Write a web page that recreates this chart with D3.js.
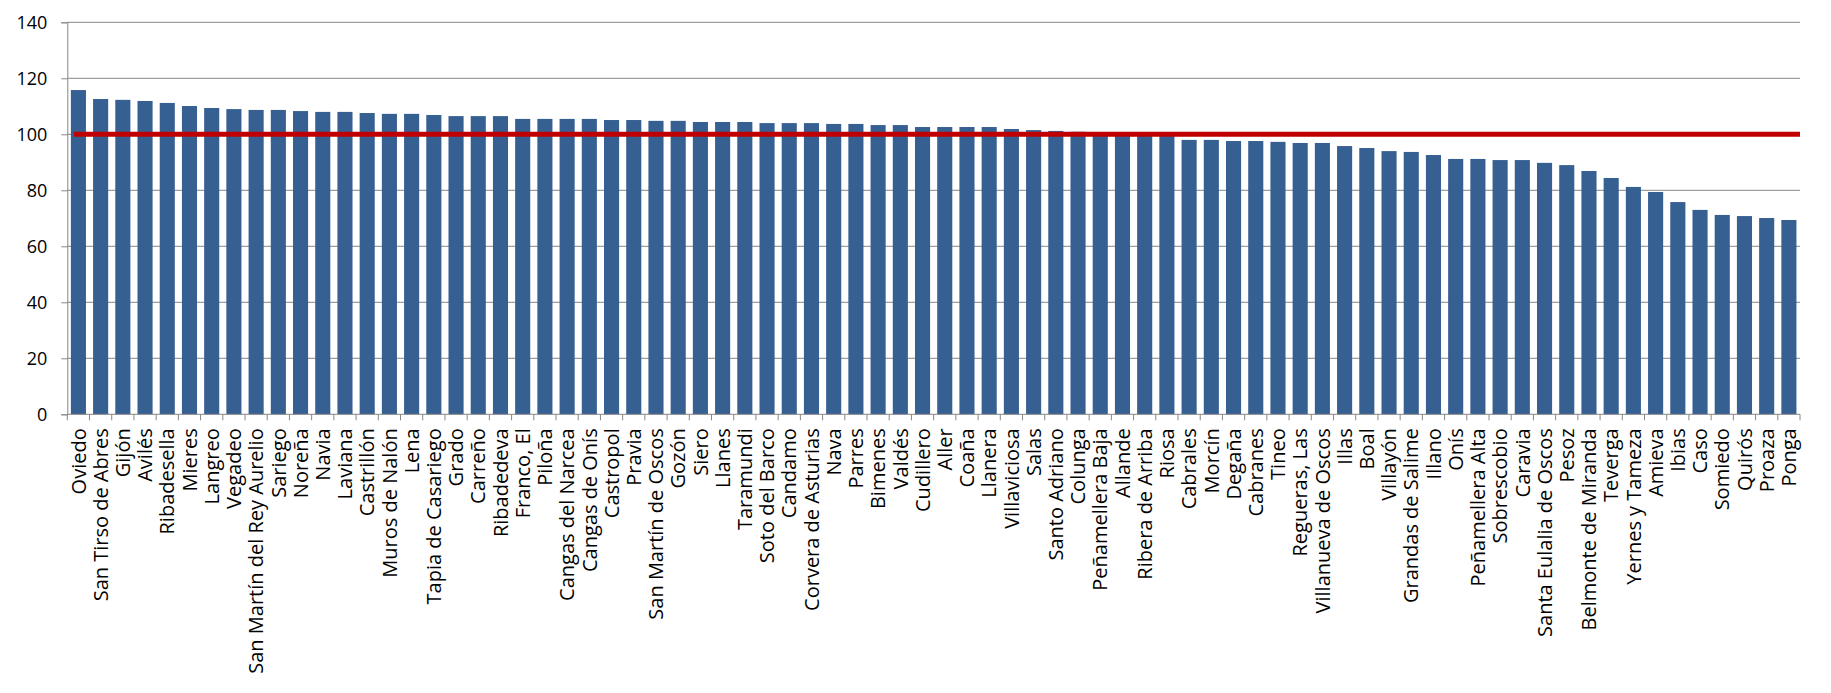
<!DOCTYPE html>
<html>
<head>
<meta charset="utf-8">
<script src="https://cdn.jsdelivr.net/npm/d3@7"></script>
<style>
  html, body { margin: 0; padding: 0; background: #fff; }
  svg { display: block; }
  text { font-family: "Open Sans", "Noto Sans", sans-serif; fill: #000; }
</style>
</head>
<body>
<script>
// municipalities, sorted as in the source chart
const categories = [
  "Oviedo", "San Tirso de Abres", "Gijón", "Avilés", "Ribadesella", "Mieres",
  "Langreo", "Vegadeo", "San Martín del Rey Aurelio", "Sariego", "Noreña",
  "Navia", "Laviana", "Castrillón", "Muros de Nalón", "Lena",
  "Tapia de Casariego", "Grado", "Carreño", "Ribadedeva", "Franco, El",
  "Piloña", "Cangas del Narcea", "Cangas de Onís", "Castropol", "Pravia",
  "San Martín de Oscos", "Gozón", "Siero", "Llanes", "Taramundi",
  "Soto del Barco", "Candamo", "Corvera de Asturias", "Nava", "Parres",
  "Bimenes", "Valdés", "Cudillero", "Aller", "Coaña", "Llanera",
  "Villaviciosa", "Salas", "Santo Adriano", "Colunga", "Peñamellera Baja",
  "Allande", "Ribera de Arriba", "Riosa", "Cabrales", "Morcín", "Degaña",
  "Cabranes", "Tineo", "Regueras, Las", "Villanueva de Oscos", "Illas",
  "Boal", "Villayón", "Grandas de Salime", "Illano", "Onís",
  "Peñamellera Alta", "Sobrescobio", "Caravia", "Santa Eulalia de Oscos",
  "Pesoz", "Belmonte de Miranda", "Teverga", "Yernes y Tameza", "Amieva",
  "Ibias", "Caso", "Somiedo", "Quirós", "Proaza", "Ponga"
];

// index values
const values = [
  115.8, 112.6, 112.3, 111.9, 111.2, 110.1, 109.4, 109.0, 108.7, 108.7,
  108.3, 108.0, 108.0, 107.6, 107.3, 107.3, 106.9, 106.5, 106.5, 106.5,
  105.5, 105.5, 105.5, 105.5, 105.1, 105.1, 104.8, 104.8, 104.4, 104.4,
  104.4, 104.0, 104.0, 104.0, 103.7, 103.7, 103.3, 103.3, 102.6, 102.6,
  102.6, 102.6, 101.9, 101.5, 101.2, 100.9, 100.6, 100.4, 100.2, 100.0,
  98.0, 98.0, 97.6, 97.6, 97.3, 96.9, 96.9, 95.8, 95.1, 94.0,
  93.7, 92.6, 91.2, 91.2, 90.8, 90.8, 89.8, 89.0, 86.9, 84.4,
  81.2, 79.4, 75.8, 73.0, 71.2, 70.8, 70.1, 69.4
];

// reference level (Asturias = 100)
const referenceValue = 100;

const yTicks = [0, 20, 40, 60, 80, 100, 120, 140];

const width = 1831;
const height = 693;
const margin = { top: 22.3, right: 31, bottom: 278.7, left: 67.3 };

const svg = d3.select("body")
  .append("svg")
  .attr("width", width)
  .attr("height", height);

const x = d3.scaleBand()
  .domain(categories)
  .range([margin.left, width - margin.right])
  .paddingInner(0.32)
  .paddingOuter(0.16);

const y = d3.scaleLinear()
  .domain([0, 140])
  .range([height - margin.bottom, margin.top]);

// horizontal gridlines
svg.append("g")
  .selectAll("line")
  .data(yTicks.filter(d => d > 0))
  .join("line")
  .attr("x1", margin.left)
  .attr("x2", width - margin.right)
  .attr("y1", d => y(d))
  .attr("y2", d => y(d))
  .attr("stroke", "#868686")
  .attr("stroke-width", 1);

// bars
svg.append("g")
  .selectAll("rect")
  .data(values)
  .join("rect")
  .attr("x", (d, i) => x(categories[i]))
  .attr("y", d => y(d))
  .attr("width", x.bandwidth())
  .attr("height", d => y(0) - y(d))
  .attr("fill", "#376092");

// y axis
const yAxis = svg.append("g")
  .attr("transform", `translate(${margin.left},0)`)
  .call(d3.axisLeft(y).tickValues(yTicks).tickSize(6).tickPadding(14));
yAxis.select(".domain").attr("stroke", "#868686");
yAxis.selectAll(".tick line").attr("stroke", "#868686");
yAxis.selectAll(".tick text")
  .style("font-size", "18px")
  .attr("fill", "#000");

// x axis: ticks sit between the categories
const xAxis = svg.append("g")
  .attr("transform", `translate(0,${y(0)})`);
xAxis.append("line")
  .attr("x1", margin.left)
  .attr("x2", width - margin.right)
  .attr("stroke", "#868686");
xAxis.selectAll(".sep")
  .data(d3.range(categories.length + 1))
  .join("line")
  .attr("class", "sep")
  .attr("x1", i => margin.left + i * x.step())
  .attr("x2", i => margin.left + i * x.step())
  .attr("y1", 0)
  .attr("y2", 6)
  .attr("stroke", "#868686");

xAxis.selectAll(".label")
  .data(categories)
  .join("text")
  .attr("class", "label")
  .attr("transform", d => `translate(${x(d) + x.bandwidth() / 2},14) rotate(-90)`)
  .attr("text-anchor", "end")
  .attr("dy", "0.36em")
  .style("font-size", "20px")
  .text(d => d);

// reference line at 100
svg.append("line")
  .attr("x1", x(categories[0]) + 3)
  .attr("x2", width - margin.right)
  .attr("y1", y(referenceValue))
  .attr("y2", y(referenceValue))
  .attr("stroke", "#C00000")
  .attr("stroke-width", 5);
</script>
</body>
</html>
